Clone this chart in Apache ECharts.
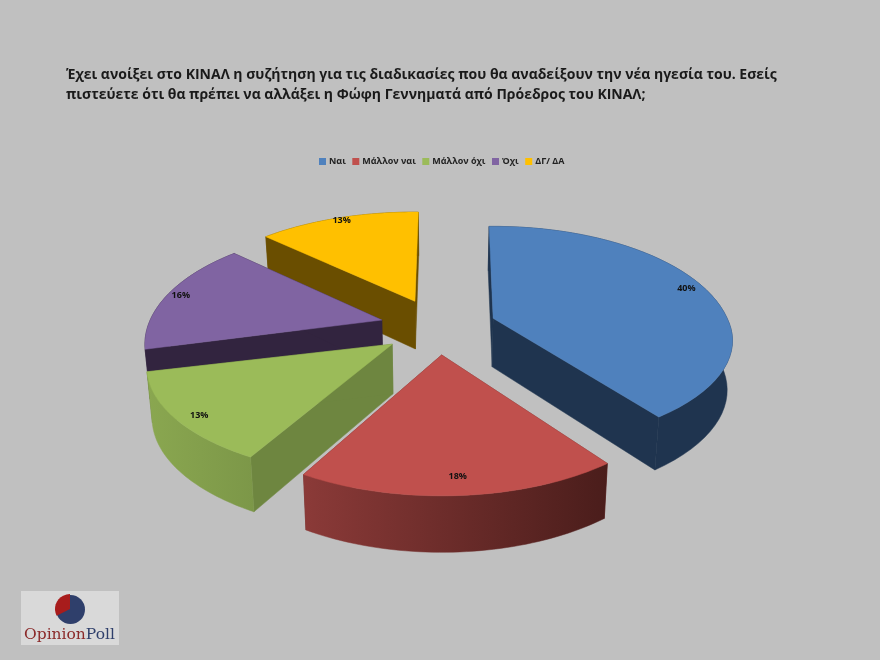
<!DOCTYPE html>
<html><head><meta charset="utf-8">
<script src="https://cdn.jsdelivr.net/npm/echarts@6/dist/echarts.min.js"></script>
<style>html,body{margin:0;padding:0;background:#c0c0c0}#c{width:880px;height:660px}</style></head>
<body><div id="c"></div>
<script>
var categories = ['Ναι','Μάλλον ναι','Μάλλον όχι','Όχι','ΔΓ/ ΔΑ'];
var values = [40,18,13,16,13];
var topColors = ['#4F81BD','#C0504D','#9BBB59','#8064A2','#FFC000'];
var wallColors = ['#1F344F','#6E2C2A','#6E8640','#32243F','#6A4E00'];
var arcLeft = ['#1F344F','#8B3A38','#8AA750','#32243F','#6A4E00'];
var arcRight = ['#1F344F','#4A1D1B','#7C9748','#32243F','#6A4E00'];
var xScale = [1,1,1.025,0.99,1];
var yBack = [1,1,1,1,0.97];
var yFront = [0.91,1,0.945,1,1];
var startTweak = [-1.2,0,0,0,0];
var endTweak = [0,0,0,0,1];
var labelRadius = [0.92,0.89,0.92,0.93,0.93];
var paintOrder = [4,3,2,0,1];
var titleText = 'Έχει ανοίξει στο ΚΙΝΑΛ η συζήτηση για τις διαδικασίες που θα αναδείξουν την νέα ηγεσία του. Εσείς\nπιστεύετε ότι θα πρέπει να αλλάξει η Φώφη Γεννηματά από Πρόεδρος του ΚΙΝΑΛ;';

var CX=438, CY=327, R=234, RK=111.3, P=0.21, EXPX=58, EXPY=28, DEG=Math.PI/180;
var total = values.reduce(function(a,b){return a+b;},0);
function angles(i){
  var s=0; for(var k=0;k<i;k++) s+=values[k];
  return [s/total*Math.PI*2,(s+values[i])/total*Math.PI*2];
}
function projectTop(ax,ay,u,v,kx,ky){
  var s=1/(1-P*v);
  return [ax+R*kx*u*s, ay+RK*ky*v*s];
}
function drop(pt){
  var d=49+(pt[1]-330)*0.045;
  return [CX+(pt[0]-CX)*0.982, pt[1]+d];
}
function renderSlice(idx){
  return function(params,api){
    var a=angles(idx), mid=(a[0]+a[1])/2;
    var ax=CX+EXPX*Math.sin(mid), ay=CY-EXPY*Math.cos(mid);
    var a0=a[0]+startTweak[idx]*DEG, a1=a[1]+endTweak[idx]*DEG;
    var arc=[], n=48;
    for(var j=0;j<=n;j++){
      var t=a0+(a1-a0)*j/n, v=-Math.cos(t);
      arc.push(projectTop(ax,ay,Math.sin(t),v,xScale[idx],v>0?yFront[idx]:yBack[idx]));
    }
    var apex=[ax,ay], apexB=drop(apex);
    var arcB=arc.map(drop);
    var p0=arc[0], p1=arc[n];
    var wall=wallColors[idx];
    var fillArc=new echarts.graphic.LinearGradient(0,0,1,0,[{offset:0,color:arcLeft[idx]},{offset:1,color:arcRight[idx]}]);
    var lr=labelRadius[idx];
    var lp=projectTop(ax,ay,lr*Math.sin(mid),-lr*Math.cos(mid),1,1);
    function poly(points,fill){
      return {type:'polygon',shape:{points:points},style:{fill:fill,stroke:fill,lineWidth:0.5}};
    }
    return {type:'group',children:[
      poly([apex,p0,drop(p0),apexB],wall),
      poly([apex,p1,drop(p1),apexB],wall),
      poly(arc.concat(arcB.slice().reverse()),fillArc),
      poly([apex].concat(arc),topColors[idx]),
      {type:'text',x:lp[0],y:lp[1],style:{text:Math.round(api.value(0))+'%',align:'center',verticalAlign:'middle',fill:'#111',font:'bold 9px "Open Sans"'}}
    ]};
  };
}
var series=categories.map(function(name,i){
  return {type:'custom',name:name,coordinateSystem:'none',animation:false,silent:true,
    z:10+paintOrder.indexOf(i),itemStyle:{color:topColors[i]},
    data:[[values[i]]],renderItem:renderSlice(i)};
});
var chart=echarts.init(document.getElementById('c'),null,{renderer:'canvas'});
chart.setOption({
  animation:false,
  backgroundColor:'#C0C0C0',
  title:{text:titleText,left:61,top:60,textStyle:{fontFamily:'Open Sans',fontWeight:'bold',fontSize:14,lineHeight:20,color:'#1a1a1a'}},
  legend:{data:categories,left:314,top:152,icon:'rect',itemWidth:7,itemHeight:7,itemGap:6.5,
    textStyle:{fontFamily:'Open Sans',fontSize:9,fontWeight:'bold',color:'#222',padding:[0,0,0,-2]}},
  series:series,
  graphic:[
    {type:'rect',z:1,shape:{x:21,y:591,width:98,height:54},style:{fill:'#D9D9D9'}},
    {type:'circle',z:2,shape:{cx:70.5,cy:609.5,r:14.5},style:{fill:'#2F3F6B'}},
    {type:'sector',z:3,shape:{cx:70,cy:609,r:15,r0:0,startAngle:Math.PI*0.85,endAngle:Math.PI*1.5},style:{fill:'#A81C1C'}},
    {type:'text',z:4,x:24,y:627,style:{text:'{a|Opinion}{b|Poll}',rich:{a:{fill:'#8B2A2A',font:'15.5px "DejaVu Serif"'},b:{fill:'#2F3F6B',font:'15.5px "DejaVu Serif"'}}}}
  ]
});
</script></body></html>
